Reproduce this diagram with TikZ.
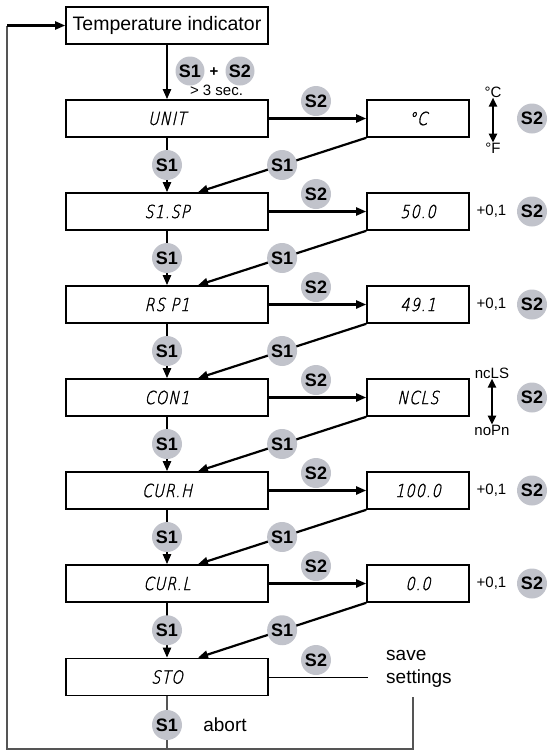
\documentclass[tikz,border=0pt]{standalone}
\usepackage{fontspec}
\setmainfont{Liberation Sans}
\newfontfamily\segfont[FakeSlant=0.22,FakeStretch=0.8,LetterSpace=6,FakeBold=1.6]{DejaVu Sans ExtraLight}
\usetikzlibrary{arrows.meta}
\definecolor{keygray}{RGB}{193,195,203}
\definecolor{loopgray}{RGB}{85,85,85}

\begin{document}
\begin{tikzpicture}[x=1pt,y=-1pt,
  box/.style={draw,line width=1.6pt,minimum height=37pt,inner sep=0pt},
  menu/.style={box,minimum width=202pt,font=\segfont\fontsize{18}{18}\selectfont},
  value/.style={box,minimum width=102pt,font=\segfont\fontsize{18}{18}\selectfont},
  key/.style={circle,fill=keygray,minimum size=30pt,inner sep=0pt,font=\bfseries\fontsize{18}{18}\selectfont},
  small/.style={inner sep=0pt,font=\fontsize{15}{15}\selectfont},
  big/.style={inner sep=0pt,font=\fontsize{19}{23}\selectfont},
  go/.style={line width=2.2pt,-{Triangle[length=10pt,width=8pt]}},
  both/.style={line width=2.2pt,{Triangle[length=9pt,width=8pt]}-{Triangle[length=9pt,width=8pt]}},
  back/.style={line width=1.3pt,draw=loopgray}]

\useasboundingbox (0,0) rectangle (550,753);

\node[box,minimum width=202pt,font=\fontsize{19.5}{19.5}\selectfont] (temp) at (167,25.5) {Temperature indicator};

\node[menu] (unit) at (167,118.5) {UNIT};
\node[menu] (sisp) at (167,211.5) {S1.SP};
\node[menu] (rsp) at (167,304.5) {RS P1};
\node[menu] (con) at (167,397.5) {CON1};
\node[menu] (curh) at (167,490.5) {CUR.H};
\node[menu] (curl) at (167,583.5) {CUR.L};
\node[menu] (sto) at (167,677) {STO};

\node[value] (vunit) at (418,118.5) {°C};
\node[value] (vsisp) at (418,211.5) {50.0};
\node[value] (vrsp) at (418,304.5) {49.1};
\node[value] (vcon) at (418,397.5) {NCLS};
\node[value] (vcurh) at (418,490.5) {100.0};
\node[value] (vcurl) at (418,583.5) {0.0};

\node[key,minimum size=29pt] (ka) at (190,71) {S1};
\node[inner sep=0pt,font=\bfseries\fontsize{15}{15}\selectfont] (plus) at (214,72) {+};
\node[key,minimum size=29pt] (kb) at (240,71) {S2};
\node[small] (sec) at (216.5,90) {> 3 sec.};

\draw[go] (temp) -- (unit);
\draw[go] (unit) -- (sisp) node[key,midway] (u1) {S1};
\draw[go] (sisp) -- (rsp) node[key,midway] (s1) {S1};
\draw[go] (rsp) -- (con) node[key,midway] (r1) {S1};
\draw[go] (con) -- (curh) node[key,midway] (c1) {S1};
\draw[go] (curh) -- (curl) node[key,midway] (h1) {S1};
\draw[go] (curl) -- (sto) node[key,midway] (l1) {S1};

\draw[go] (unit.east) -- (vunit.west);
\draw[go] (sisp.east) -- (vsisp.west);
\draw[go] (rsp.east) -- (vrsp.west);
\draw[go] (con.east) -- (vcon.west);
\draw[go] (curh.east) -- (vcurh.west);
\draw[go] (curl.east) -- (vcurl.west);

\node[key] (u2) at (316,101) {S2};
\node[key] (s2) at (316,194) {S2};
\node[key] (r2) at (316,287) {S2};
\node[key] (c2) at (316,380) {S2};
\node[key] (h2) at (316,473) {S2};
\node[key] (l2) at (316,566) {S2};
\node[key] (o2) at (316,660) {S2};

\draw[go] (vunit.south west) -- ([xshift=31pt]sisp.north) node[key,pos=0.5] (du) {S1};
\draw[go] (vsisp.south west) -- ([xshift=31pt]rsp.north) node[key,pos=0.5] (ds) {S1};
\draw[go] (vrsp.south west) -- ([xshift=31pt]con.north) node[key,pos=0.5] (dr) {S1};
\draw[go] (vcon.south west) -- ([xshift=31pt]curh.north) node[key,pos=0.5] (dc) {S1};
\draw[go] (vcurh.south west) -- ([xshift=31pt]curl.north) node[key,pos=0.5] (dh) {S1};
\draw[go] (vcurl.south west) -- ([xshift=31pt]sto.north) node[key,pos=0.5] (dl) {S1};

\node[small] (degc) at (493,92) {°C};
\node[small] (degf) at (493,148) {°F};
\draw[both] (degc) -- (degf);
\node[small] (nc) at (492,373) {ncLS};
\node[small] (no) at (492,430) {noPn};
\draw[both] (nc) -- (no);

\node[small] (incs) at (491.5,211.5) {+0,1};
\node[small] (incr) at (491.5,304.5) {+0,1};
\node[small] (inch) at (491.5,490.5) {+0,1};
\node[small] (incl) at (491.5,583.5) {+0,1};

\node[key] (ru) at (532,118.5) {S2};
\node[key] (rs) at (532,211.5) {S2};
\node[key] (rr) at (532,304.5) {S2};
\node[key] (rc) at (532,397.5) {S2};
\node[key] (rh) at (532,490.5) {S2};
\node[key] (rl) at (532,583.5) {S2};

\node[big,align=left,anchor=north west] (save) at (386,650) {save\\settings};
\coordinate (savefoot) at (413,697);
\coordinate (loop) at (7,749);

\draw[line width=1pt] (sto.east) -- ([xshift=-18pt]sto.east -| save.west);
\draw[back] (savefoot) |- (sto |- loop);
\draw[back] (sto) -- (sto |- loop) -- (loop) -- (loop |- temp.west);
\draw[go] (loop |- temp.west) -- (temp.west);
\node[key] (abk) at (167,725) {S1};
\node[big] (abort) at (225,725) {abort};

\end{tikzpicture}
\end{document}
